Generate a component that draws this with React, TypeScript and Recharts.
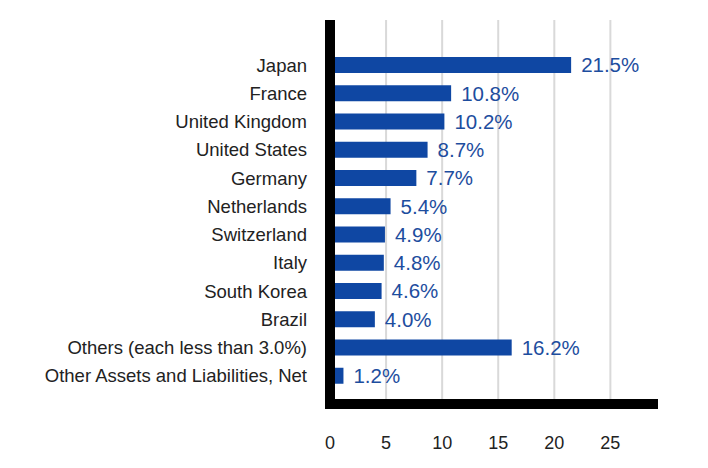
import { BarChart, Bar, XAxis, YAxis, CartesianGrid, LabelList } from 'recharts';

const countries = [
  'Japan',
  'France',
  'United Kingdom',
  'United States',
  'Germany',
  'Netherlands',
  'Switzerland',
  'Italy',
  'South Korea',
  'Brazil',
  'Others (each less than 3.0%)',
  'Other Assets and Liabilities, Net',
];
const weights = [21.5, 10.8, 10.2, 8.7, 7.7, 5.4, 4.9, 4.8, 4.6, 4.0, 16.2, 1.2];
const xTicks = [0, 5, 10, 15, 20, 25];

const data = countries.map((name, i) => ({ name, value: weights[i] }));

const font = '"Liberation Sans", Arial, sans-serif';

export default function App() {
  return (
    <div style={{ position: 'absolute', left: 0, top: 0, fontFamily: font }}>
      <BarChart
        width={708}
        height={468}
        data={data}
        layout="vertical"
        margin={{ top: 20, right: 55, bottom: 34, left: 0 }}
      >
        <CartesianGrid horizontal={false} verticalValues={xTicks} stroke="#d9d9d9" strokeWidth={2} />
        <XAxis
          type="number"
          domain={[0, 28.8]}
          ticks={xTicks}
          allowDataOverflow
          height={30}
          tickLine={false}
          tickMargin={26}
          axisLine={{ stroke: '#000', strokeWidth: 10, strokeLinecap: 'square' }}
          tick={{ fill: '#222', fontSize: 18, fontFamily: font }}
        />
        <YAxis
          type="category"
          dataKey="name"
          width={330}
          interval={0}
          padding={{ top: 31, bottom: 14 }}
          tickLine={false}
          tickMargin={17}
          axisLine={{ stroke: '#000', strokeWidth: 10 }}
          tick={{ fill: '#222', fontSize: 18.5, fontFamily: font }}
        />
        <Bar dataKey="value" fill="#0f47a3" barSize={16} isAnimationActive={false}>
          <LabelList
            dataKey="value"
            position="right"
            offset={10}
            formatter={(v: number) => `${v.toFixed(1)}%`}
            style={{ fill: '#1d4d9e', fontSize: 20.5, fontFamily: font }}
          />
        </Bar>
      </BarChart>
    </div>
  );
}
